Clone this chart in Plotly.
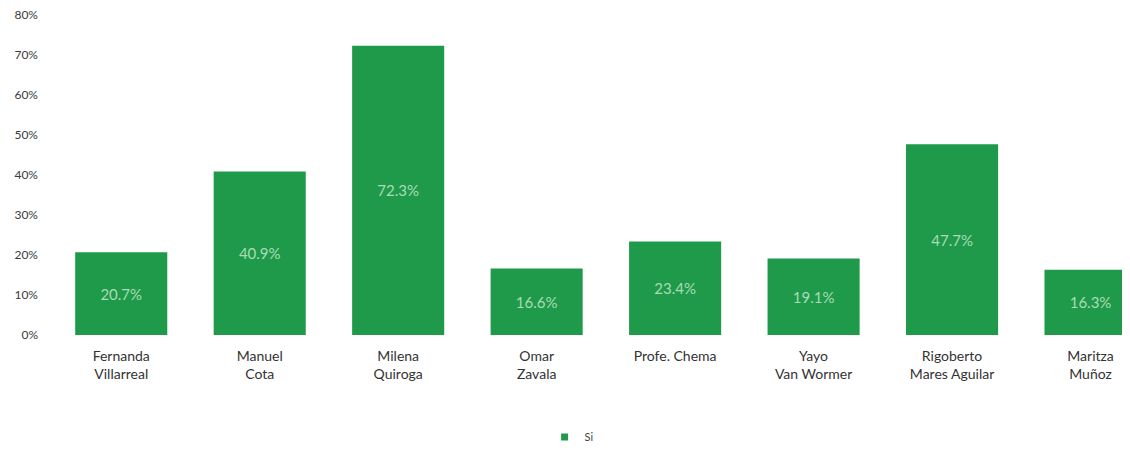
import plotly.graph_objects as go

categories = ["Fernanda<br>Villarreal", "Manuel<br>Cota", "Milena<br>Quiroga", "Omar<br>Zavala",
              "Profe. Chema", "Yayo<br>Van Wormer", "Rigoberto<br>Mares Aguilar", "Maritza<br>Muñoz"]
values = [0.207, 0.409, 0.723, 0.166, 0.234, 0.191, 0.477, 0.163]
labels = ["20.7%", "40.9%", "72.3%", "16.6%", "23.4%", "19.1%", "47.7%", "16.3%"]
series_name = "Si"
y_ticks = [0, 0.1, 0.2, 0.3, 0.4, 0.5, 0.6, 0.7, 0.8]
y_ticktext = ["0%", "10%", "20%", "30%", "40%", "50%", "60%", "70%", "80%"]

GREEN = "#1f9a4a"

fig = go.Figure()
fig.add_trace(go.Bar(
    x=list(range(len(categories))), y=values, name=series_name,
    marker=dict(color=GREEN, line=dict(width=0)),
    width=0.665,
    text=labels, textposition="inside", insidetextanchor="middle",
    textfont=dict(family="Lato", size=15, color="#a9dcb6"),
    showlegend=False,
))
# legend entry with a small square
fig.add_trace(go.Scatter(
    x=[None], y=[None], mode="markers", name=series_name,
    marker=dict(symbol="square", size=7, color=GREEN),
    showlegend=True,
))

fig.update_layout(
    width=1130, height=453,
    margin=dict(l=44, r=8, t=7, b=126),
    paper_bgcolor="white", plot_bgcolor="white",
    font=dict(family="Lato", color="#333333"),
    xaxis=dict(range=[-0.5, 7.285], tickmode="array", tickvals=list(range(len(categories))),
               ticktext=categories, showgrid=False, zeroline=False, showline=False,
               tickfont=dict(size=14, color="#333333"), ticks="", automargin=False,
               ticklabelstandoff=11),
    yaxis=dict(range=[0, 0.8], tickmode="array", tickvals=y_ticks, ticktext=y_ticktext,
               showgrid=False, zeroline=False, showline=False, automargin=False,
               tickfont=dict(size=12, color="#3a3a3a"), ticks="", ticklabelstandoff=13,
               ticklabeloverflow="allow"),
    legend=dict(orientation="h", x=0.482, xanchor="center", y=-0.319, yanchor="middle",
                font=dict(size=11, color="#444444"), itemwidth=30),
)
fig.write_html("out.html")
